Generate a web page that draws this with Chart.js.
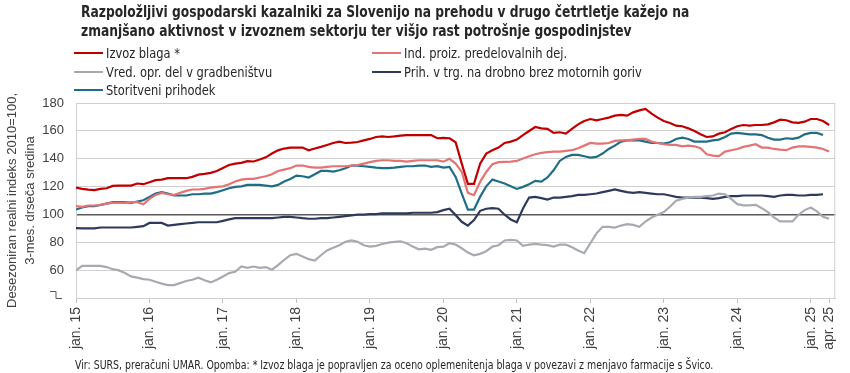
<!DOCTYPE html>
<html>
<head>
<meta charset="utf-8">
<script src="https://cdn.jsdelivr.net/npm/chart.js@4.4.1/dist/chart.umd.min.js"></script>
<style>
  body { margin: 0; background: #fff; }
  #wrap { position: relative; width: 850px; height: 373px; }
  #chart { position: absolute; left: 0; top: 0; }
  .narrow { display: inline-block; white-space: nowrap; transform: scaleX(0.91); transform-origin: 0 50%; }
  #title { position: absolute; left: 81px; top: 3px; font: bold 15px "Liberation Sans Narrow", "DejaVu Sans Condensed", sans-serif; line-height: 19px; color: #262626; }
  .item { position: absolute; display: flex; align-items: center; font: 14px "Liberation Sans Narrow", "DejaVu Sans Condensed", sans-serif; color: #262626; height: 18px; white-space: nowrap; }
  .swatch { width: 29px; height: 2.5px; margin-right: 3px; }
  #note { position: absolute; left: 75px; top: 358px; font: 11.5px "Liberation Sans Narrow", "DejaVu Sans Condensed", sans-serif; color: #262626; }
</style>
</head>
<body>
<div id="wrap">
  <canvas id="chart" width="850" height="373"></canvas>
  <div id="title"><span class="narrow">Razpoložljivi gospodarski kazalniki za Slovenijo na prehodu v drugo četrtletje kažejo na<br>zmanjšano aktivnost v izvoznem sektorju ter višjo rast potrošnje gospodinjstev</span></div>
  <div id="legend"></div>
  <div id="note"><span class="narrow">Vir: SURS, preračuni UMAR. Opomba: * Izvoz blaga je popravljen za oceno oplemenitenja blaga v povezavi z menjavo farmacije s Švico.</span></div>
</div>
<script>
// monthly, jan 2015 .. apr 2025
const monthNames = ['jan.', 'feb.', 'mar.', 'apr.', 'maj', 'jun.', 'jul.', 'avg.', 'sep.', 'okt.', 'nov.', 'dec.'];
const months = [];
for (let yr = 15; yr <= 25; yr++) {
  for (let m = 0; m < 12; m++) {
    if (yr === 25 && m > 3) break;
    months.push(monthNames[m] + ' ' + yr);
  }
}
const tickMonths = [0, 12, 24, 36, 48, 60, 72, 84, 96, 108, 120, 123];
const yTicks = [40, 60, 80, 100, 120, 140, 160, 180];

const izvozBlaga = [
  119.3,118.3,117.8,117.4,118.3,118.8,120.5,120.7,120.7,120.7,122.2,121.7,123.1,124.6,125,126,126,126,126,127,128.6,129.1,129.8,131.2,133.4,135.5,136.5,137,138.2,138,139.4,141,
  143.7,146,147.3,148,148,148,146,147.3,148.5,149.9,151.3,152.3,151.3,151.6,152,153.2,154.2,155.6,156,155.6,156,156.6,157,157,157,157,157,154.7,155,154.7,151.8,
  136.5,122,122,136.5,143.7,146,148,151.3,152.3,153.7,157,159.9,162.8,161.8,161.4,158.5,159,158,161.4,164.7,167.1,168.5,167.6,168.5,169.5,170.9,171.4,170.9,173.3,174.7,175.8,172.4,
  169.5,167.1,165.7,163.7,163.3,161.8,159.9,157.5,155.6,156,158,159,161.4,163.3,164.2,163.7,164.2,164.2,164.7,166.1,168,167.6,166.1,165.7,166.6,168.5,168.5,167.1,164.2
];
const indProiz = [
  105.9,105.4,106.4,106.4,106.9,107.8,108.3,108.3,108.3,108.8,108.8,107.3,111.2,114,115.5,114.5,114,115.5,116.9,117.9,117.9,118.3,119.3,119.8,120.2,121.7,123.6,125,125.5,125.5,126.5,127.4,
  128.9,131.2,132.2,133.2,135.1,135.1,134.1,133.6,133.6,134.1,134.6,134.6,134.6,135.1,135.5,136.5,137.5,138.4,138.9,138.9,138.4,138.4,137.9,138.4,138.9,138.9,138.9,138.9,137.9,139.9,136.5,
  130.5,115.5,113.8,123.4,130.5,136,137.5,137.7,137.9,138.4,140.1,141.8,143.2,144.2,144.7,145.1,145.1,145.6,146.1,147.5,149.4,151.3,150.8,150.8,151.3,152.8,153.2,153.2,153.7,154.2,154.2,152.3,
  151.3,150.4,149.9,149.9,148.9,149.4,148.9,147.5,143.2,142.2,141.8,145.1,146.1,147,148.5,149.4,150.4,148,148,147,146.5,146.1,148,148.9,148.9,148.5,148,147,145.1
];
const gradbenistvo = [
  59.8,63.1,63.1,63.1,63.1,62.2,60.7,59.8,57.9,55.5,54.6,53.6,53.1,51.7,50.3,49.3,49.3,50.7,52.2,53.1,54.6,52.7,51.2,53.1,55.5,57.9,58.8,62.6,61.7,62.6,61.7,62.2,
  60.3,63.6,67.4,70.7,71.7,69.8,67.9,66.9,70.7,74.1,76,77.9,80.3,81.3,80.3,77.9,76.9,77.4,78.8,79.8,80.3,80.7,79.3,76.9,75,75.5,74.6,76.5,76.9,79.3,78.3,
  75.7,72.6,70.7,71.7,73.6,76.9,77.9,81.3,81.7,81.3,77.4,78.3,78.8,78.3,77.9,76.9,78.3,78.3,76.5,74.1,72.2,79.3,86.4,91.1,91.1,90.6,92,93,92.5,91.1,94.9,97.8,
  99.8,101.7,105.5,109.8,111.2,112.1,112.6,112.6,113.1,113.6,115,114.5,111.2,107.4,106.5,106.5,106.9,104.5,101.7,97.8,95,95,95,99.8,103.1,105,102.2,98.3,96.9
];
const trgovina = [
  90.1,90,90,90,90.6,90.6,90.6,90.6,90.6,90.6,91.1,91.6,93.9,93.9,93.9,92,92.5,93,93.5,93.9,94.4,94.4,94.4,94.4,95.4,96.4,97.3,97.3,97.3,97.3,97.3,97.3,
  97.3,97.8,98.3,98.3,97.8,97.3,96.9,96.9,97.3,97.3,97.8,98.3,98.8,99.3,99.8,99.8,100.2,100.2,100.7,100.7,100.7,100.7,100.7,101.2,101.2,101.2,101.2,101.7,103.1,104.1,99.5,
  94.7,92,95.9,102.6,104.1,104.5,104.1,99.8,96.4,94.4,104.3,112.1,112.6,111.7,110.7,112.1,112.1,112.6,113.1,114,114,114.5,115,116,116.9,117.9,116.9,116,115.5,116,115.5,115,
  114.5,114.5,113.6,112.6,112.1,112.1,112.1,112.1,111.7,111.2,111.7,112.6,113.1,113.1,113.6,113.6,113.6,113.6,113.1,112.6,113.6,114,114,113.6,113.6,114,114,114.5,null
];
const storitve = [
  103.5,105,105.9,105.9,106.9,107.8,108.8,108.8,108.8,108.3,109.3,110.2,112.6,115,116,115,113.6,113.6,113.6,114.5,114.5,115,115,116,117.4,118.8,119.8,120.2,121.2,121.2,121.2,120.7,
  120.2,121.2,123.6,125.5,127.9,127.4,126.5,128.9,131.2,131.2,130.8,131.7,133.2,135.1,135.1,134.6,134.1,133.6,133.2,133.2,133.6,134.1,134.6,134.6,135.1,135.1,134.1,134.6,133.6,134.1,126.9,
  115,103.5,103.5,112.6,120.2,125,123.6,122.2,120.2,118.3,119.8,121.7,124.1,123.6,126.5,131.7,138.4,141.3,142.7,142.7,141.8,140.8,141.3,143.7,147,149.4,152.3,153.2,153.2,153.2,152.3,151.3,
  151.3,150.8,151.8,154.2,155.1,154.2,152.3,152.3,152.3,153.2,153.7,155.6,158,158.5,158,157.5,157.5,157,155.1,153.7,153.7,154.7,154.2,155.1,157.5,158.5,158.5,157,null
];

const series = [
  { label: 'Izvoz blaga *', data: izvozBlaga, color: '#C00000', col: 0, row: 0 },
  { label: 'Ind. proiz. predelovalnih dej.', data: indProiz, color: '#E57373', col: 1, row: 0 },
  { label: 'Vred. opr. del v gradbeništvu', data: gradbenistvo, color: '#A7ABB0', col: 0, row: 1 },
  { label: 'Prih. v trg. na drobno brez motornih goriv', data: trgovina, color: '#2E3A5C', col: 1, row: 1 },
  { label: 'Storitveni prihodek', data: storitve, color: '#1F6E86', col: 0, row: 2 }
];

// html legend, two columns
const legend = document.getElementById('legend');
const colX = [74, 372];
const rowY = [44, 63, 81];
series.forEach(s => {
  const el = document.createElement('div');
  el.className = 'item';
  el.style.left = colX[s.col] + 'px';
  el.style.top = rowY[s.row] + 'px';
  el.innerHTML = '<span class="swatch" style="background:' + s.color + '"></span><span class="narrow">' + s.label + '</span>';
  legend.appendChild(el);
});

const frame = {
  id: 'frame',
  beforeDatasetsDraw(chart) {
    const { ctx, chartArea: a, scales } = chart;
    ctx.save();
    ctx.strokeStyle = '#D0D0D0';
    ctx.lineWidth = 1;
    ctx.strokeRect(a.left + 0.5, a.top + 0.5, a.right - a.left - 1, a.bottom - a.top);
    // axis break mark
    const yb = Math.round(scales.y.getPixelForValue(40)) + 0.5;
    ctx.strokeStyle = '#595959';
    ctx.beginPath();
    ctx.moveTo(a.left - 26, yb - 7);
    ctx.lineTo(a.left - 20, yb - 7);
    ctx.lineTo(a.left - 20, yb);
    ctx.lineTo(a.left - 14, yb);
    ctx.stroke();
    ctx.restore();
  }
};

const tickFont = { family: '"Liberation Sans", Arial, sans-serif', size: 13 };

new Chart(document.getElementById('chart'), {
  type: 'line',
  data: {
    datasets: series.map(s => ({
      label: s.label,
      data: s.data.map((v, i) => ({ x: i, y: v })),
      borderColor: s.color,
      backgroundColor: s.color,
      borderWidth: 2.2,
      pointRadius: 0,
      tension: 0,
      spanGaps: false
    }))
  },
  options: {
    responsive: false,
    animation: false,
    layout: { padding: { left: 0, right: 8, top: 103, bottom: 15 } },
    plugins: { legend: { display: false }, tooltip: { enabled: false } },
    scales: {
      x: {
        type: 'linear',
        min: 0,
        max: 124,
        afterBuildTicks: scale => { scale.ticks = tickMonths.map(v => ({ value: v })); },
        afterFit: scale => { scale.height = 60; },
        ticks: {
          autoSkip: false,
          maxRotation: 90,
          minRotation: 90,
          padding: 4,
          color: '#404040',
          font: { family: '"Liberation Sans", Arial, sans-serif', size: 14 },
          callback: v => months[v]
        },
        grid: { drawOnChartArea: false, color: '#BFBFBF', tickLength: 5 },
        border: { color: '#D0D0D0' }
      },
      y: {
        min: 40,
        max: 180,
        afterBuildTicks: scale => { scale.ticks = yTicks.map(v => ({ value: v })); },
        afterFit: scale => { scale.width = 76; },
        ticks: {
          padding: 12,
          color: '#404040',
          font: tickFont,
          callback: v => (v === 40 ? '' : v)
        },
        grid: {
          drawTicks: false,
          color: c => (c.tick && c.tick.value === 100 ? '#595959' : '#D0D0D0'),
          lineWidth: c => (c.tick && c.tick.value === 100 ? 1.5 : 1)
        },
        border: { color: '#D0D0D0' },
        title: {
          display: true,
          text: ['Desezoniran realni indeks 2010=100,', '3-mes. drseča sredina'],
          color: '#404040',
          font: { family: '"Liberation Sans", Arial, sans-serif', size: 13, lineHeight: 1.385 },
          padding: { top: 3, bottom: 0 }
        }
      }
    }
  },
  plugins: [frame]
});
</script>
</body>
</html>
